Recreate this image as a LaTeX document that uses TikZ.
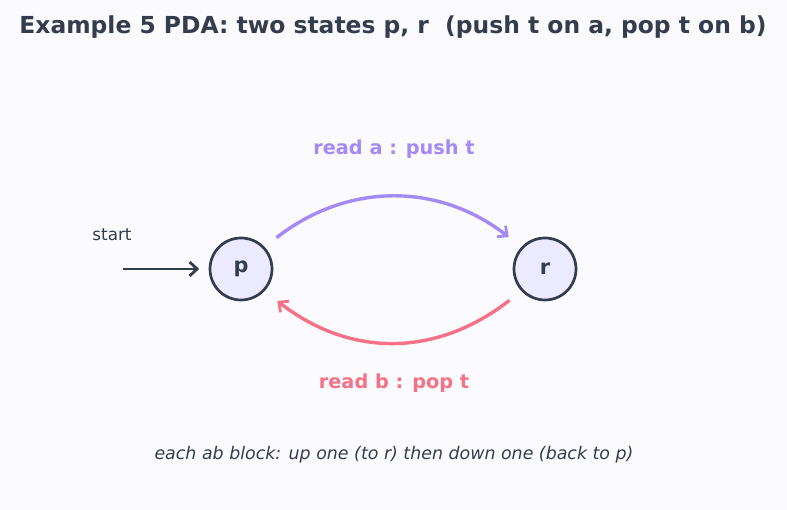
\documentclass[tikz,border=0pt]{standalone}
\usepackage{fontspec}
\setmainfont{DejaVu Sans}
\usetikzlibrary{arrows.meta}
\definecolor{bgc}{HTML}{FBFBFD}
\definecolor{ink}{HTML}{343C4E}
\definecolor{pur}{HTML}{A48AF4}
\definecolor{pnk}{HTML}{F47186}
\definecolor{nfill}{HTML}{ECEAFF}
\begin{document}
\begin{tikzpicture}[x=1pt,y=1pt,
  state/.style={circle,draw=ink,fill=nfill,line width=2.7pt,minimum size=62pt,inner sep=0pt,font=\bfseries\fontsize{20.8}{24}\selectfont,text=ink},
  tip/.style={-{Straight Barb[length=7.5pt,width=14pt,line width=2.8pt]}},
  lbl/.style={font=\bfseries\fontsize{19.3}{23}\selectfont}]
\fill[bgc] (0,0) rectangle (787,510);
\useasboundingbox (0,0) rectangle (787,510);
\node[font=\bfseries\fontsize{23.4}{28}\selectfont,text=ink] (title) at (393,483) {Example 5 PDA: two states p, r\ \ (push t on a, pop t on b)};
\node[state] (p) at (241,241) {p};
\node[state] (r) at (545,241) {r};
\coordinate (s) at (123,241);
\node[font=\fontsize{16.8}{20}\selectfont,text=ink] (startlbl) at (112,275) {start};
\draw[ink,line width=2.7pt,tip,shorten >=9.5pt] (s) -- (p);
\draw[pur,line width=3.4pt,tip,shorten <=15pt,shorten >=16pt] (p.43) .. controls +(38:105) and +(142:105) .. (r.137);
\draw[pnk,line width=3.4pt,tip,shorten <=15pt,shorten >=16pt] (r.223) .. controls +(218:108) and +(-38:108) .. (p.-43);
\node[lbl,text=pur] (la) at (394,361) {read a : push t};
\node[lbl,text=pnk] (lb) at (394,127) {read b : pop t};
\node[font=\itshape\fontsize{17.4}{21}\selectfont,text=ink] (cap) at (394,55) {each ab block: up one (to r) then down one (back to p)};
\end{tikzpicture}
\end{document}
